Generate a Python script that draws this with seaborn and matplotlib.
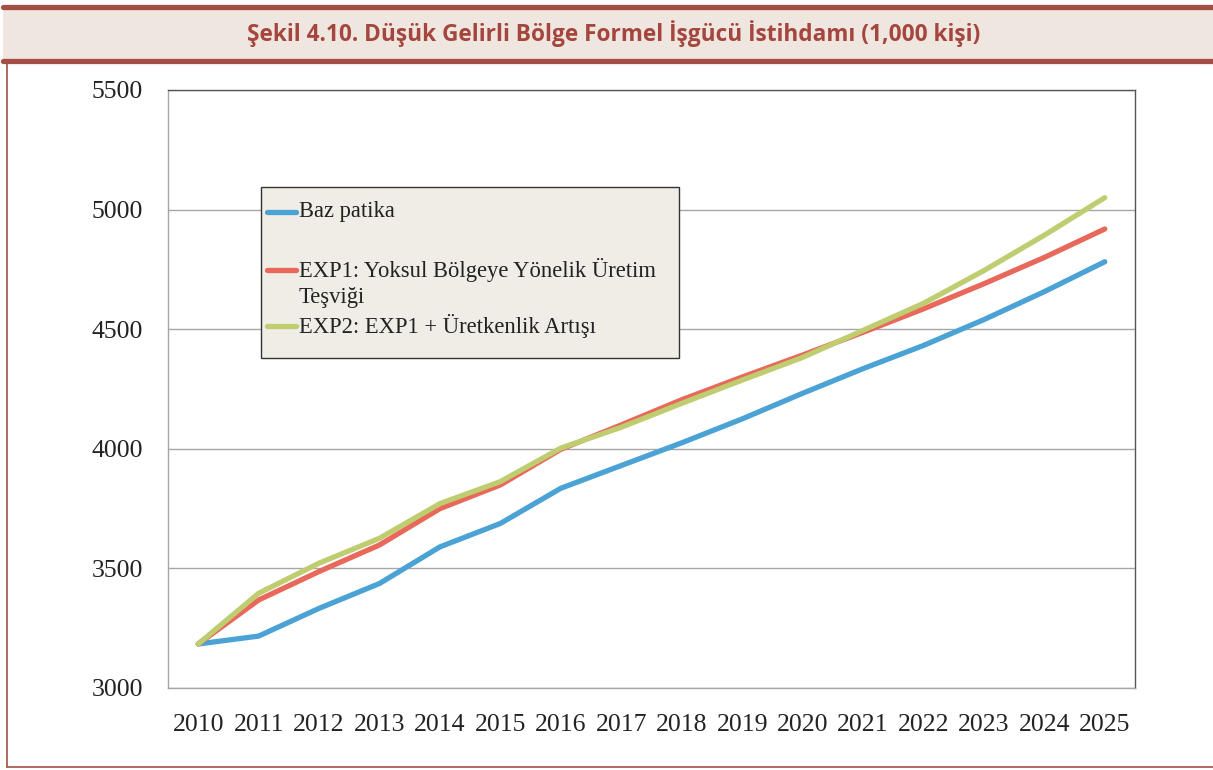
import numpy as np
import pandas as pd
import matplotlib
matplotlib.use("Agg")
import matplotlib.pyplot as plt
import seaborn as sns
from matplotlib.patches import Rectangle
from matplotlib.lines import Line2D

# values (1,000 kisi)
years = list(range(2010, 2026))
baz = [3184, 3217, 3333, 3437, 3590, 3688, 3835, 3930, 4025, 4125,
       4232, 4335, 4432, 4540, 4657, 4782]
exp1 = [3184, 3368, 3487, 3598, 3750, 3849, 3998, 4100, 4205, 4300,
        4392, 4487, 4585, 4690, 4800, 4919]
exp2 = [3184, 3396, 3522, 3626, 3771, 3863, 4003, 4090, 4190, 4287,
        4382, 4495, 4608, 4745, 4893, 5050]

names = ["Baz patika",
         "EXP1: Yoksul Bölgeye Yönelik Üretim Teşviği",
         "EXP2: EXP1 + Üretkenlik Artışı"]
colors = ["#4AA3D4", "#E8695B", "#BFCD70"]
title = "Şekil 4.10. Düşük Gelirli Bölge Formel İşgücü İstihdamı (1,000 kişi)"

df = pd.DataFrame({
    "Yil": years * 3,
    "Deger": baz + exp1 + exp2,
    "Seri": [names[0]] * 16 + [names[1]] * 16 + [names[2]] * 16,
})

sns.set_style("white")
plt.rcParams["font.family"] = ["Liberation Serif", "DejaVu Serif"]

W, H = 1213, 770
fig = plt.figure(figsize=(W / 100, H / 100), dpi=100)
fig.patch.set_facecolor("white")

def fx(px):
    return px / W

def fy(py):
    return 1 - py / H

# frame and title band
red = "#A44F46"
fig.add_artist(Rectangle((fx(3), fy(60)), fx(1210), 50 / H, transform=fig.transFigure,
                         facecolor="#EFE6DF", edgecolor="none"))
fig.add_artist(Line2D([fx(3), fx(1213)], [fy(7), fy(7)], color=red, lw=3.8))
fig.add_artist(Line2D([fx(3), fx(1213)], [fy(60.5), fy(60.5)], color=red, lw=3.8))
fig.add_artist(Line2D([fx(7), fx(7)], [fy(62), fy(767)], color=red, lw=1.2))
fig.add_artist(Line2D([fx(7), fx(1213)], [fy(767), fy(767)], color=red, lw=1.2))
fig.text(fx(614), fy(34), title, ha="center", va="center", color="#A5463E",
         fontsize=16.3, fontweight="bold", family=["Open Sans", "DejaVu Sans"])

ax = fig.add_axes([fx(168), fy(688), fx(1135 - 168), (688 - 90) / H])
sns.lineplot(data=df, x="Yil", y="Deger", hue="Seri", palette=colors, ax=ax,
             linewidth=3.8, legend=False, solid_capstyle="round", solid_joinstyle="round")

ax.set_xlim(2009.5, 2025.5)
ax.set_ylim(3000, 5500)
ax.set_yticks([3000, 3500, 4000, 4500, 5000, 5500])
ax.set_xticks(np.arange(2009.5, 2026, 1))
ax.set_xticklabels([])
ax.set_xticks(years, minor=True)
ax.set_xticklabels([str(y) for y in years], minor=True)
ax.tick_params(axis="x", which="major", length=9, width=1, color="#A6A6A6", direction="out")
ax.tick_params(axis="x", which="minor", length=0, pad=19, labelsize=18.5, labelcolor="#222222")
ax.tick_params(axis="y", length=9, width=1, color="#A6A6A6", direction="out", pad=9,
               labelsize=18.5, labelcolor="#222222")
ax.set_xlabel("")
ax.set_ylabel("")
ax.grid(axis="y", color="#A6A6A6", lw=1)
ax.set_axisbelow(True)
for s in ["left", "bottom"]:
    ax.spines[s].set_color("#A6A6A6")
    ax.spines[s].set_linewidth(1)
for s in ["top", "right"]:
    ax.spines[s].set_color("#555555")
    ax.spines[s].set_linewidth(1)

# legend box
fig.add_artist(Rectangle((fx(261), fy(358)), fx(418), 171 / H, transform=fig.transFigure,
                         facecolor="#F0EDE7", edgecolor="#333333", lw=1, zorder=5))
rows = [(212, names[0]), (270, "EXP1: Yoksul Bölgeye Yönelik Üretim"), (326, names[2])]
for (py, lab), c in zip(rows, colors):
    fig.add_artist(Line2D([fx(267), fx(296)], [fy(py), fy(py)], color=c, lw=3.8,
                          solid_capstyle="round", zorder=6))
    fig.text(fx(299), fy(py), lab, ha="left", va="center", fontsize=16.3,
             color="#222222", zorder=6)
fig.text(fx(299), fy(298), "Teşviği", ha="left", va="center", fontsize=16.3,
         color="#222222", zorder=6)

fig.savefig("out.png", dpi=100)
